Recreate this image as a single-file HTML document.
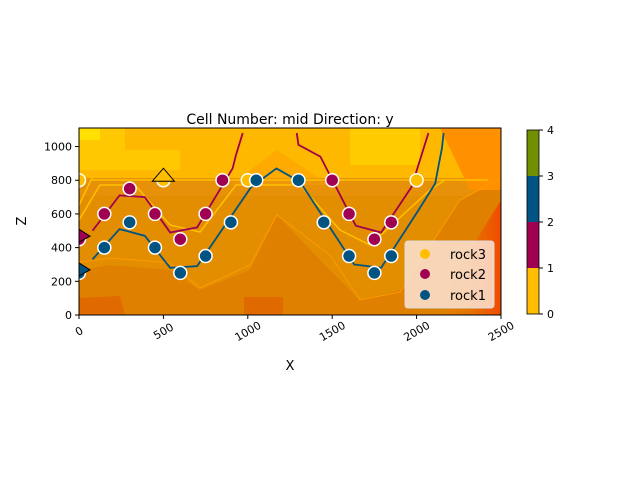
<!DOCTYPE html>
<html><head><meta charset="utf-8"><style>
body{margin:0;background:#fff;font-family:"Liberation Sans","DejaVu Sans",sans-serif}
svg text{font-family:"DejaVu Sans","Liberation Sans",sans-serif}
</style></head><body>
<svg id="c" width="640" height="480" xmlns="http://www.w3.org/2000/svg">
<defs><clipPath id="pc"><rect x="79" y="128" width="422" height="187"/></clipPath>
<linearGradient id="rg" x1="0" x2="1" y1="0" y2="0"><stop offset="0" stop-color="#e08a00" stop-opacity="0"/><stop offset="1" stop-color="#f04a00"/></linearGradient></defs>
<g clip-path="url(#pc)">
<rect x="79" y="128" width="422" height="187" fill="#e28e00"/>
<rect x="79" y="128" width="422" height="50" fill="#ffb800"/>
<polygon points="79,128 125,128 125,150 180,150 180,170 79,170" fill="#ffc800"/>
<polygon points="79,128 100,128 100,140 79,140" fill="#ffe000"/>
<polygon points="350,128 420,128 420,165 350,165" fill="#ffcc00"/>
<polygon points="230,185 277,150 330,185" fill="#ffaa00"/>
<polygon points="79,178 501,178 501,196 79,196" fill="#e8920a" opacity="0.8"/>
<polygon points="79,270 110,265 170,270 200,290 250,270 277,215 320,260 360,300 400,290 460,200 501,180 501,315 79,315" fill="#e08000"/>
<polygon points="79,298 120,296 125,315 79,315" fill="#e06a00"/>
<polygon points="244,297 283,297 283,315 244,315" fill="#e06a00"/>
<polygon points="430,315 501,200 501,315" fill="url(#rg)"/>
<polygon points="440,128 501,128 501,190 470,190" fill="#ff9000"/>
<polyline points="79,220 100,185 135,185 170,225 200,232 236,185 300,185 340,230 370,245 430,190 445,180" fill="none" stroke="#ffc000" stroke-width="1.5"/>
<polyline points="79,205 92,178" fill="none" stroke="#ffc000" stroke-width="1.5"/>
<polyline points="92,180 488,180" fill="none" stroke="#ffc000" stroke-width="1.5"/>
<polyline points="79,262 110,258 170,263 200,288 250,265 277,215 330,255 360,300 400,292 460,200 501,178" fill="none" stroke="#ff9a00" stroke-width="1"/>
</g>
<g id="marks" clip-path="url(#pc)"></g>
<g id="axes"></g>
<text x="290" y="124" text-anchor="middle" font-size="14">Cell Number: mid Direction: y</text>
<text x="290" y="370" text-anchor="middle" font-size="13">X</text>
<text x="26" y="221" text-anchor="middle" font-size="13" transform="rotate(-90 26 221)">Z</text>
<g>
<rect x="405" y="241" width="89" height="67" rx="3" fill="#fbe4d6" fill-opacity="0.85" stroke="#ddd"/>
<circle cx="425" cy="254" r="5" fill="#ffbe00"/><text x="450" y="259" font-size="13">rock3</text>
<circle cx="425" cy="274" r="5" fill="#9f0052"/><text x="450" y="279" font-size="13">rock2</text>
<circle cx="425" cy="295" r="5" fill="#015482"/><text x="450" y="300" font-size="13">rock1</text>
</g>
<g>
<rect x="527" y="268" width="12" height="46" fill="#ffbe00"/>
<rect x="527" y="222" width="12" height="46" fill="#9f0052"/>
<rect x="527" y="176" width="12" height="46" fill="#015482"/>
<rect x="527" y="130" width="12" height="46" fill="#728f02"/>
<rect x="527" y="130" width="12" height="184" fill="none" stroke="#000" stroke-width="0.8"/>
<g font-size="11">
<line x1="539" x2="543" y1="314" y2="314" stroke="#000"/><text x="547" y="318">0</text>
<line x1="539" x2="543" y1="268" y2="268" stroke="#000"/><text x="547" y="272">1</text>
<line x1="539" x2="543" y1="222" y2="222" stroke="#000"/><text x="547" y="226">2</text>
<line x1="539" x2="543" y1="176" y2="176" stroke="#000"/><text x="547" y="180">3</text>
<line x1="539" x2="543" y1="130" y2="130" stroke="#000"/><text x="547" y="134">4</text>
</g></g>
</svg>
<script>
const xTicks=[0,500,1000,1500,2000,2500];
const yTicks=[0,200,400,600,800,1000];
const rock3X=[0,500,1000,2000];
const rock3Z=[800,800,800,800];
const rock2X=[0,150,300,450,600,750,850,1500,1600,1750,1850];
const rock2Z=[450,600,750,600,450,600,800,800,600,450,550];
const rock1X=[0,150,300,450,600,750,900,1050,1300,1450,1600,1750,1850];
const rock1Z=[250,400,550,400,250,350,550,800,800,550,350,250,350];
const line2aX=[80,240,390,540,700,910,930,970];
const line2aZ=[500,710,700,490,520,870,950,1080];
const line2bX=[1290,1300,1430,1640,1790,1970,2070];
const line2bZ=[1080,1010,940,530,490,760,1080];
const line1X=[80,240,390,540,700,1020,1170,1310,1630,1790,2010,2110,2150,2160];
const line1Z=[330,510,470,280,290,760,870,790,300,280,620,780,990,1080];
const X0=79,X1=501,Y0=315,Y1=128,XMAX=2500,ZMAX=1110;
const sx=v=>X0+v/XMAX*(X1-X0);
const sy=v=>Y0-v/ZMAX*(Y0-Y1);
const NS="http://www.w3.org/2000/svg";
const marks=document.getElementById('marks'),axes=document.getElementById('axes');
function mk(p,tag,at){const e=document.createElementNS(NS,tag);for(const k in at)e.setAttribute(k,at[k]);p.appendChild(e);return e;}
function line(xs,zs,col,name){const e=mk(marks,'polyline',{points:xs.map((x,i)=>sx(x)+','+sy(zs[i])).join(' '),fill:'none',stroke:col,'stroke-width':1.8});

}
line(line2aX,line2aZ,'#9f0052','rock2-boundary-left');
line(line2bX,line2bZ,'#9f0052','rock2-boundary-right');
line(line1X,line1Z,'#015482','rock1-boundary');
function pts(xs,zs,col,name){xs.forEach((x,i)=>{const c=mk(marks,'circle',{cx:sx(x),cy:sy(zs[i]),r:6.5,fill:col,stroke:'#fff','stroke-width':1.5});

});}
pts(rock3X,rock3Z,'#ffbe00','rock3');
pts(rock2X,rock2Z,'#9f0052','rock2');
pts(rock1X,rock1Z,'#015482','rock1');
const tri=mk(marks,'polygon',{points:`${sx(500)-11},${sy(800)+1} ${sx(500)},${sy(800)-12} ${sx(500)+11},${sy(800)+1}`,fill:'#ffbe00',stroke:'#000','stroke-width':1});


const t2=mk(marks,'polygon',{points:`${sx(0)},${sy(450)-10} ${sx(0)+11},${sy(450)-3} ${sx(0)},${sy(450)+3}`,fill:'#9f0052',stroke:'#000'});


const t1=mk(marks,'polygon',{points:`${sx(0)},${sy(250)-10} ${sx(0)+11},${sy(250)-3} ${sx(0)},${sy(250)+3}`,fill:'#015482',stroke:'#000'});


const fr=mk(axes,'rect',{x:X0,y:Y1,width:X1-X0,height:Y0-Y1,fill:'none',stroke:'#000','stroke-width':1});


xTicks.forEach(t=>{const x=sx(t);mk(axes,'line',{x1:x,x2:x,y1:Y0,y2:Y0+4,stroke:'#000'});
const l=mk(axes,'text',{x:x,y:Y0+20,'font-size':11,'text-anchor':'middle',transform:`rotate(-30 ${x} ${Y0+16})`});l.textContent=t;

});
yTicks.forEach(t=>{const y=sy(t);mk(axes,'line',{x1:X0-4,x2:X0,y1:y,y2:y,stroke:'#000'});
const l=mk(axes,'text',{x:X0-7,y:y+4,'font-size':11,'text-anchor':'end'});l.textContent=t;

});
</script>
</body></html>
